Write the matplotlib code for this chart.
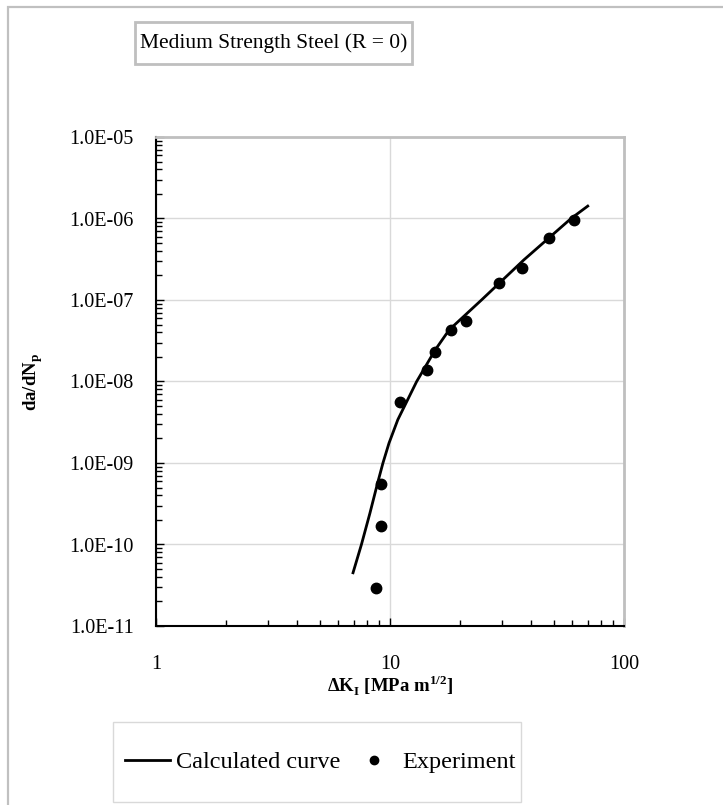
import numpy as np
import matplotlib
matplotlib.use("Agg")
import matplotlib.pyplot as plt
from matplotlib.patches import Rectangle
from matplotlib.lines import Line2D
from matplotlib.ticker import LogLocator, FuncFormatter, NullFormatter

plt.rcParams["font.family"] = ["Liberation Serif", "DejaVu Serif"]
plt.rcParams["mathtext.fontset"] = "custom"
plt.rcParams["mathtext.rm"] = "Liberation Serif"
plt.rcParams["mathtext.bf"] = "Liberation Serif:bold"

# calculated curve
K_calc = [6.95, 7.55, 8.2, 8.84, 9.33, 9.9, 10.8, 13.0, 15.6, 17.9, 24.6, 37.3, 59.4, 70.0]
da_calc = [4.5e-11, 1.0e-10, 2.4e-10, 5.6e-10, 1.0e-9, 1.75e-9, 3.4e-9, 1.0e-8,
           2.44e-8, 4.3e-8, 1.0e-7, 3.1e-7, 1.0e-6, 1.42e-6]

# experiment points
K_exp = [8.75, 9.19, 9.19, 11.0, 14.35, 15.5, 18.24, 21.1, 29.3, 36.5, 47.6, 61.2]
da_exp = [2.9e-11, 1.7e-10, 5.6e-10, 5.65e-9, 1.38e-8, 2.3e-8, 4.28e-8, 5.5e-8,
          1.63e-7, 2.45e-7, 5.77e-7, 9.6e-7]

W, H = 723, 805
fig = plt.figure(figsize=(W / 100, H / 100), dpi=100)

def fx(px): return px / W
def fy(py): return 1 - py / H

# outer chart frame (runs off the right / bottom edge)
fig.patches.append(Rectangle((fx(8), fy(830)), fx(760), fy(7) - fy(830), transform=fig.transFigure,
                             fill=False, ec="#c0c0c0", lw=1.6))

ax = fig.add_axes([fx(156), fy(626), fx(624) - fx(156), fy(137) - fy(626)])
ax.plot(K_calc, da_calc, color="black", lw=2.0, zorder=3)
ax.plot(K_exp, da_exp, "o", color="black", ms=7.5, zorder=4)
ax.set_xscale("log"); ax.set_yscale("log")
ax.set_xlim(1, 100); ax.set_ylim(1e-11, 1e-5)

ax.yaxis.set_major_locator(LogLocator(base=10, numticks=20))
ax.yaxis.set_minor_locator(LogLocator(base=10, subs=np.arange(2, 10), numticks=20))
ax.yaxis.set_minor_formatter(NullFormatter())
ax.yaxis.set_major_formatter(FuncFormatter(lambda v, p: f"{v:.1E}"))
ax.xaxis.set_major_formatter(FuncFormatter(lambda v, p: f"{v:g}"))
ax.xaxis.set_minor_formatter(NullFormatter())
ax.tick_params(which="both", direction="in", labelsize=14.5, width=1.0, color="black")
ax.tick_params(axis="y", pad=16)
ax.tick_params(axis="x", pad=21)
ax.tick_params(which="major", length=6)
ax.tick_params(which="minor", length=4)
ax.grid(True, which="major", color="#d9d9d9", lw=1.0, zorder=0)
ax.set_axisbelow(True)
for s in ["left", "bottom"]:
    ax.spines[s].set_color("black"); ax.spines[s].set_linewidth(1.5)
for s in ["top", "right"]:
    ax.spines[s].set_color("#bfbfbf"); ax.spines[s].set_linewidth(2.0)

ax.set_xlabel(r"ΔK$_{\mathbf{I}}$ [MPa m$^{\mathbf{1/2}}$]", fontsize=13.5, fontweight="bold", labelpad=0)
ax.set_ylabel(r"da/dN$_{\mathbf{p}}$", fontsize=13.5, fontweight="bold")
ax.yaxis.set_label_coords((45 - 156) / 468, 0.5)

# title box
fig.patches.append(Rectangle((fx(135), fy(64)), fx(277), fy(22) - fy(64), transform=fig.transFigure,
                             fill=False, ec="#bfbfbf", lw=2.0))
fig.text(fx(273.5), fy(43), "Medium Strength Steel (R = 0)", fontsize=15.5, ha="center", va="center")

# legend box
fig.patches.append(Rectangle((fx(113), fy(802)), fx(408), fy(722) - fy(802), transform=fig.transFigure,
                             fill=False, ec="#d9d9d9", lw=1.0))
handles = [Line2D([], [], color="black", lw=2.0), Line2D([], [], ls="", marker="o", color="black", ms=6)]
fig.legend(handles, ["Calculated curve", "Experiment"], loc="center", bbox_to_anchor=(fx(320.5), fy(762)),
           ncol=2, frameon=False, fontsize=17.5, handlelength=1.85, handletextpad=0.25,
           columnspacing=0.47, borderpad=0, borderaxespad=0)

fig.savefig("out.png", dpi=100)
